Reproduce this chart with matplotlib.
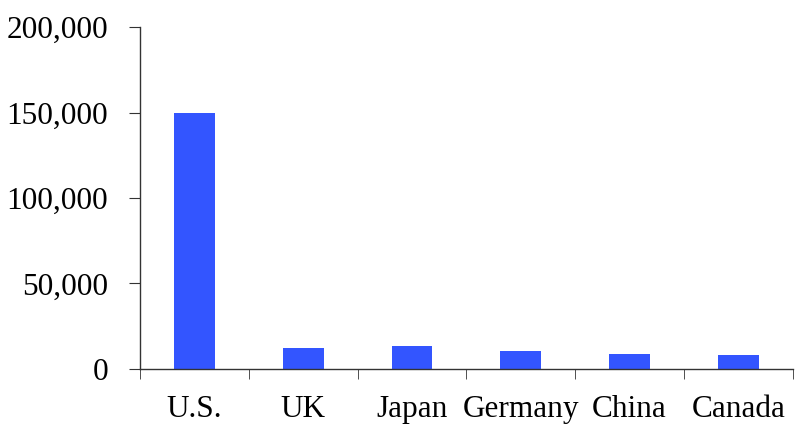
import numpy as np
import matplotlib.pyplot as plt
from matplotlib.ticker import FuncFormatter

countries = ['U.S.', 'UK', 'Japan', 'Germany', 'China', 'Canada']
values = [149500, 12100, 13200, 10700, 8900, 8000]

plt.rcParams['font.family'] = ['Liberation Serif', 'DejaVu Serif']

fig = plt.figure(figsize=(8, 4.29), dpi=100)
ax = fig.add_axes([0.175, 0.14, 0.816, 0.797])

x = np.arange(len(countries))
ax.bar(x, values, width=0.375, color='#3355ff')

ax.set_xlim(-0.5, len(countries) - 0.5)
ax.set_ylim(0, 200000)
ax.set_yticks([0, 50000, 100000, 150000, 200000])
ax.yaxis.set_major_formatter(FuncFormatter(lambda v, p: f'{int(v):,}'))

ax.set_xticks(x)
ax.set_xticklabels(countries)
ax.set_xticks(np.arange(-0.5, len(countries)), minor=True)

for s in ['top', 'right']:
    ax.spines[s].set_visible(False)
for s in ['left', 'bottom']:
    ax.spines[s].set_color('#333333')
    ax.spines[s].set_linewidth(1.0)

ax.tick_params(axis='y', direction='out', length=8, pad=15, labelsize=22.5,
               color='#333333')
ax.tick_params(axis='x', which='major', length=0, pad=19, labelsize=22.5)
ax.tick_params(axis='x', which='minor', direction='out', length=7,
               color='#333333')

fig.savefig('out.png', dpi=100)
